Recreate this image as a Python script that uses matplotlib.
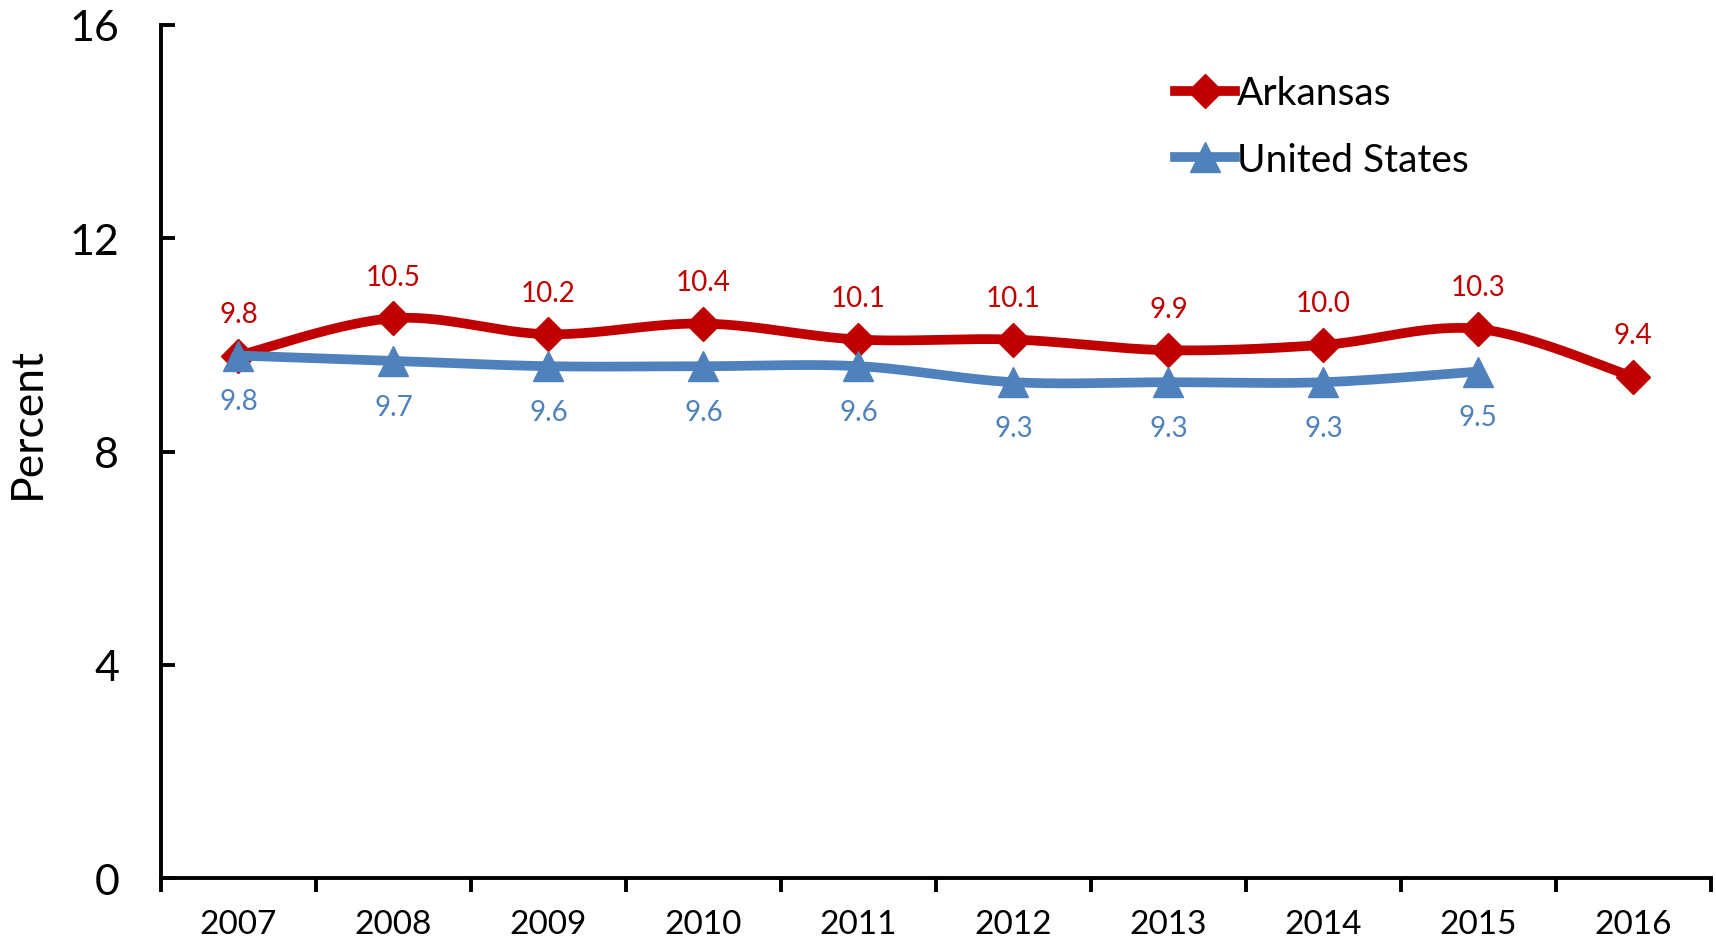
import numpy as np
import matplotlib.pyplot as plt
from matplotlib.lines import Line2D

plt.rcParams['font.family'] = ['Lato', 'DejaVu Sans']

years = ['2007', '2008', '2009', '2010', '2011', '2012', '2013', '2014', '2015', '2016']
arkansas = [9.8, 10.5, 10.2, 10.4, 10.1, 10.1, 9.9, 10.0, 10.3, 9.4]
united_states = [9.8, 9.7, 9.6, 9.6, 9.6, 9.3, 9.3, 9.3, 9.5]

RED = '#C00000'
BLUE = '#4F81BD'


def smooth(xs, ys, n=40):
	# spreadsheet-style smoothed line: cubic bezier through each point
	xs = np.asarray(xs, float)
	ys = np.asarray(ys, float)
	px = np.concatenate([[xs[0]], xs, [xs[-1]]])
	py = np.concatenate([[ys[0]], ys, [ys[-1]]])
	outx, outy = [], []
	t = np.linspace(0, 1, n)
	for i in range(1, len(px) - 2):
		p0 = np.array([px[i], py[i]])
		p3 = np.array([px[i + 1], py[i + 1]])
		c1 = p0 + (np.array([px[i + 1], py[i + 1]]) - np.array([px[i - 1], py[i - 1]])) / 6.0
		c2 = p3 - (np.array([px[i + 2], py[i + 2]]) - np.array([px[i], py[i]])) / 6.0
		bx = (1 - t) ** 3 * p0[0] + 3 * (1 - t) ** 2 * t * c1[0] + 3 * (1 - t) * t ** 2 * c2[0] + t ** 3 * p3[0]
		by = (1 - t) ** 3 * p0[1] + 3 * (1 - t) ** 2 * t * c1[1] + 3 * (1 - t) * t ** 2 * c2[1] + t ** 3 * p3[1]
		outx.extend(bx)
		outy.extend(by)
	return outx, outy


fig = plt.figure(figsize=(17.16, 9.45), dpi=100)
ax = fig.add_axes([0.0938, 0.0698, 0.9032, 0.9027])

xa = np.arange(len(arkansas))
xu = np.arange(len(united_states))

sx, sy = smooth(xa, arkansas)
ax.plot(sx, sy, color=RED, lw=7, solid_capstyle='round', zorder=3)
ax.plot(xa, arkansas, ls='none', marker='D', ms=17, color=RED, zorder=4)

sx, sy = smooth(xu, united_states)
ax.plot(sx, sy, color=BLUE, lw=7, solid_capstyle='round', zorder=5)
ax.plot(xu, united_states, ls='none', marker='^', ms=22, color=BLUE, zorder=6)

for x, v in zip(xa, arkansas):
	ax.annotate('%.1f' % v, (x, v), xytext=(0, 30), textcoords='offset points',
		ha='center', va='center', fontsize=20, color=RED)
for x, v in zip(xu, united_states):
	ax.annotate('%.1f' % v, (x, v), xytext=(0, -33), textcoords='offset points',
		ha='center', va='center', fontsize=20, color=BLUE)

ax.set_xlim(-0.5, len(years) - 0.5)
ax.set_ylim(0, 16)
ax.set_yticks([0, 4, 8, 12, 16])
ax.set_xticks(xa)
ax.set_xticklabels(years)
ax.set_xticks(np.arange(-0.5, len(years)), minor=True)

for s in ['top', 'right']:
	ax.spines[s].set_visible(False)
for s in ['left', 'bottom']:
	ax.spines[s].set_linewidth(2.8)

ax.tick_params(axis='y', direction='in', length=10, width=2.8, labelsize=31, pad=30)
ax.tick_params(axis='x', which='major', length=0, labelsize=24, pad=22)
ax.tick_params(axis='x', which='minor', direction='out', length=10, width=2.8)
ax.set_ylabel('Percent', fontsize=32)
ax.yaxis.set_label_coords(-0.073, 0.535)

handles = [
	Line2D([], [], color=RED, lw=7, marker='D', ms=17),
	Line2D([], [], color=BLUE, lw=7, marker='^', ms=22),
]
ax.legend(handles, ['Arkansas', 'United States'], loc='upper left',
	bbox_to_anchor=(0.654, 0.941), frameon=False, fontsize=28,
	borderpad=0, borderaxespad=0,
	handlelength=1.55, handletextpad=0.05, labelspacing=0.78)

fig.savefig('out.png', dpi=100)
